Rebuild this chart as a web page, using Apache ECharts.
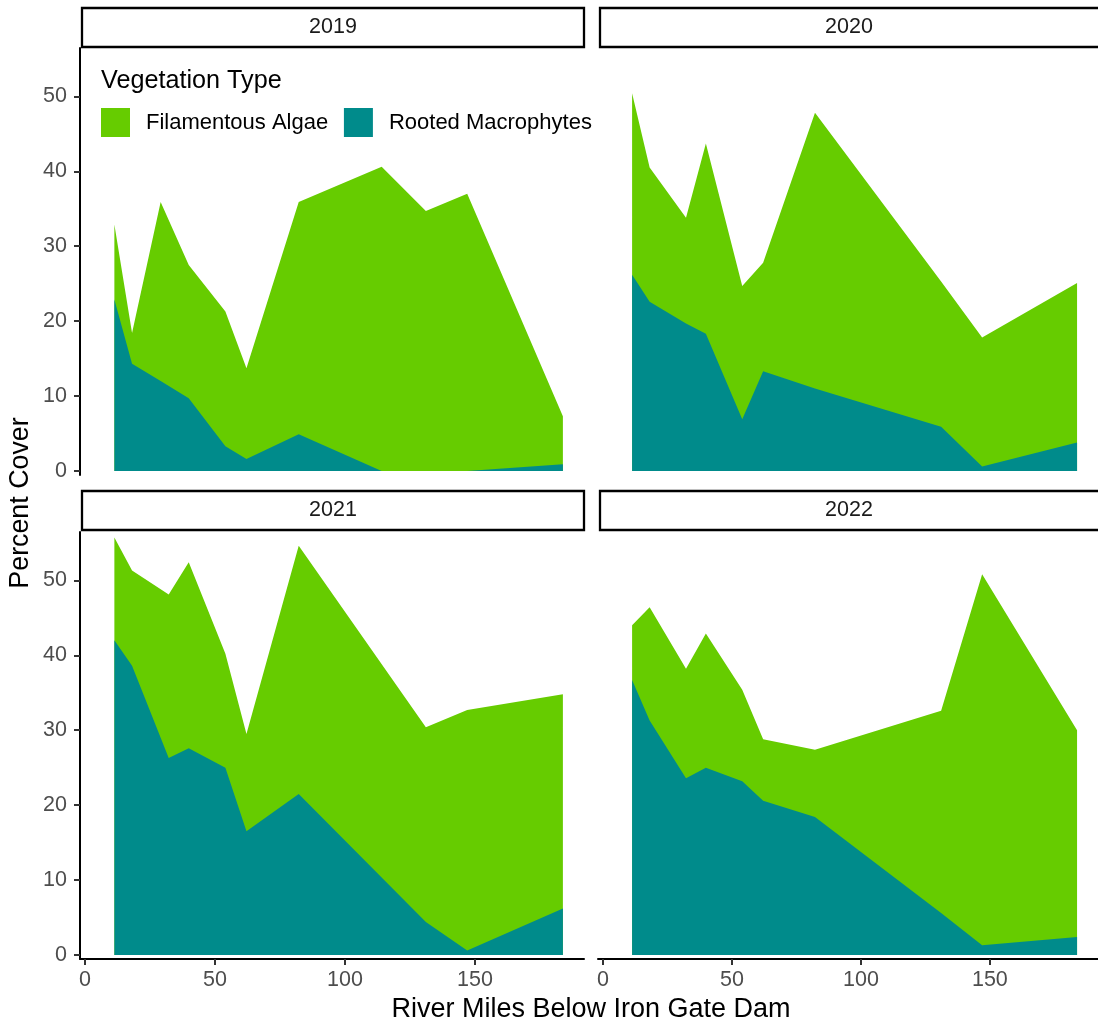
<!DOCTYPE html>
<html>
<head>
<meta charset="utf-8">
<script src="https://cdn.jsdelivr.net/npm/echarts@6/dist/echarts.min.js"></script>
<style>
html,body{margin:0;padding:0;background:#fff;}
#chart{width:1098px;height:1023px;}
</style>
</head>
<body>
<div id="chart"></div>
<script>
// ---- Data ----
const years = ['2019', '2020', '2021', '2022'];
const seriesNames = ['Filamentous Algae', 'Rooted Macrophytes'];
const xTicks = [0, 50, 100, 150];
const yTicks = [0, 10, 20, 30, 40, 50];

const miles2019 = [11.3, 18.1, 29.1, 39.9, 54.0, 62.1, 82.2, 114.1, 131.1, 147.0, 183.8];
const milesOther = [11.3, 18.1, 32.2, 39.9, 54.0, 62.1, 82.2, 131.1, 147.0, 183.8];

const rooted2019 = [22.9, 14.3, 12.0, 9.7, 3.3, 1.6, 4.9, 0, 0, 0, 0.9];
const algae2019  = [10.0, 4.1, 23.9, 17.8, 18.0, 12.1, 31.0, 40.6, 34.7, 37.0, 6.4];

const rooted2020 = [26.2, 22.6, 19.7, 18.3, 6.9, 13.3, 11.0, 5.9, 0.6, 3.8];
const algae2020  = [24.2, 17.9, 14.1, 25.4, 17.8, 14.5, 36.8, 19.4, 17.2, 21.3];

const rooted2021 = [42.0, 38.6, 26.3, 27.6, 25.0, 16.5, 21.5, 4.4, 0.6, 6.2];
const algae2021  = [13.7, 12.7, 21.8, 24.8, 15.2, 13.0, 33.1, 26.0, 32.1, 28.6];

const rooted2022 = [36.7, 31.3, 23.6, 25.0, 23.2, 20.6, 18.4, 5.6, 1.3, 2.4];
const algae2022  = [7.3, 15.1, 14.6, 17.9, 12.2, 8.2, 9.0, 27.0, 49.5, 27.6];

// ---- Styling ----
const GREEN = '#66CC00';
const TEAL = '#008B8B';
const FONT = '"Liberation Sans", Arial, Helvetica, sans-serif';

const panels = [
  { miles: miles2019,  rooted: rooted2019, algae: algae2019 },
  { miles: milesOther, rooted: rooted2020, algae: algae2020 },
  { miles: milesOther, rooted: rooted2021, algae: algae2021 },
  { miles: milesOther, rooted: rooted2022, algae: algae2022 }
];

const gridPos = [
  { left: 80, top: 48, width: 504, height: 427 },
  { left: 598, top: 48, width: 504, height: 427 },
  { left: 80, top: 532, width: 504, height: 427 },
  { left: 598, top: 532, width: 504, height: 427 }
];
const showX = [false, false, true, true];
const showY = [true, false, true, false];

const XMIN = -1.92, XMAX = 191.92, YMIN = -0.534, YMAX = 56.45;

const grids = gridPos.map(g => Object.assign({ containLabel: false }, g));

const xAxes = gridPos.map((g, i) => ({
  type: 'value', gridIndex: i, min: XMIN, max: XMAX,
  show: showX[i],
  axisLine: { show: true, onZero: false, lineStyle: { color: '#000', width: 2 } },
  axisTick: { show: true, length: 6, lineStyle: { color: '#333', width: 2 }, customValues: xTicks },
  axisLabel: { show: true, customValues: xTicks, color: '#4D4D4D', fontSize: 21.5, fontFamily: FONT, margin: 10 },
  splitLine: { show: false }
}));

const yAxes = gridPos.map((g, i) => ({
  type: 'value', gridIndex: i, min: YMIN, max: YMAX,
  show: showY[i],
  axisLine: { show: true, onZero: false, lineStyle: { color: '#000', width: 2 } },
  axisTick: { show: true, length: 6, lineStyle: { color: '#333', width: 2 }, customValues: yTicks },
  axisLabel: { show: true, customValues: yTicks, color: '#4D4D4D', fontSize: 21.5, fontFamily: FONT, margin: 13 },
  splitLine: { show: false }
}));

const series = [];
panels.forEach((p, i) => {
  const totalPts = p.miles.map((m, k) => [m, +(p.rooted[k] + p.algae[k]).toFixed(2)]);
  const rootedPts = p.miles.map((m, k) => [m, p.rooted[k]]);
  series.push({
    name: seriesNames[0], type: 'line', xAxisIndex: i, yAxisIndex: i,
    data: totalPts, symbol: 'none', showSymbol: false, silent: true,
    lineStyle: { width: 0, color: GREEN }, itemStyle: { color: GREEN },
    areaStyle: { color: GREEN, opacity: 1, origin: 0 }, z: 2
  });
  series.push({
    name: seriesNames[1], type: 'line', xAxisIndex: i, yAxisIndex: i,
    data: rootedPts, symbol: 'none', showSymbol: false, silent: true,
    lineStyle: { width: 0, color: TEAL }, itemStyle: { color: TEAL },
    areaStyle: { color: TEAL, opacity: 1, origin: 0 }, z: 3
  });
});

const stripPos = [
  { x: 82, y: 8, w: 502 },
  { x: 600, y: 8, w: 502 },
  { x: 82, y: 491, w: 502 },
  { x: 600, y: 491, w: 502 }
];
const graphics = [];
stripPos.forEach((s, i) => {
  graphics.push({
    type: 'rect', shape: { x: s.x, y: s.y, width: s.w, height: 39 },
    style: { fill: '#fff', stroke: '#000', lineWidth: 2.3 }, z: 10
  });
  graphics.push({
    type: 'text', x: s.x + s.w / 2 - (i % 2 === 1 ? 2 : 0), y: s.y + 19.5,
    style: { text: years[i], fill: '#1A1A1A', font: '21.5px ' + FONT, textAlign: 'center', textVerticalAlign: 'middle' }, z: 11
  });
});
graphics.push({
  type: 'text', x: 101, y: 81,
  style: { text: 'Vegetation Type', fill: '#000', font: '25.2px ' + FONT, textAlign: 'left', textVerticalAlign: 'middle' }, z: 11
});
graphics.push({
  type: 'text', x: 591, y: 1010,
  style: { text: 'River Miles Below Iron Gate Dam', fill: '#000', font: '27px ' + FONT, textAlign: 'center', textVerticalAlign: 'middle' }, z: 11
});
graphics.push({
  type: 'text', x: 21, y: 503, rotation: Math.PI / 2,
  style: { text: 'Percent Cover', fill: '#000', font: '26.8px ' + FONT, textAlign: 'center', textVerticalAlign: 'middle' }, z: 11
});

const option = {
  animation: false,
  backgroundColor: '#fff',
  grid: grids,
  xAxis: xAxes,
  yAxis: yAxes,
  legend: {
    left: 101, top: 108, orient: 'horizontal', padding: 0,
    itemWidth: 29, itemHeight: 29, itemGap: 15.7, icon: 'rect',
    data: [
      { name: seriesNames[0], itemStyle: { color: GREEN } },
      { name: seriesNames[1], itemStyle: { color: TEAL } }
    ],
    textStyle: { fontSize: 22, color: '#000', fontFamily: FONT, padding: [0, 0, 0, 11] },
    selectedMode: false
  },
  series: series,
  graphic: graphics
};

const chart = echarts.init(document.getElementById('chart'), null, { renderer: 'canvas' });
chart.setOption(option);
</script>
</body>
</html>
